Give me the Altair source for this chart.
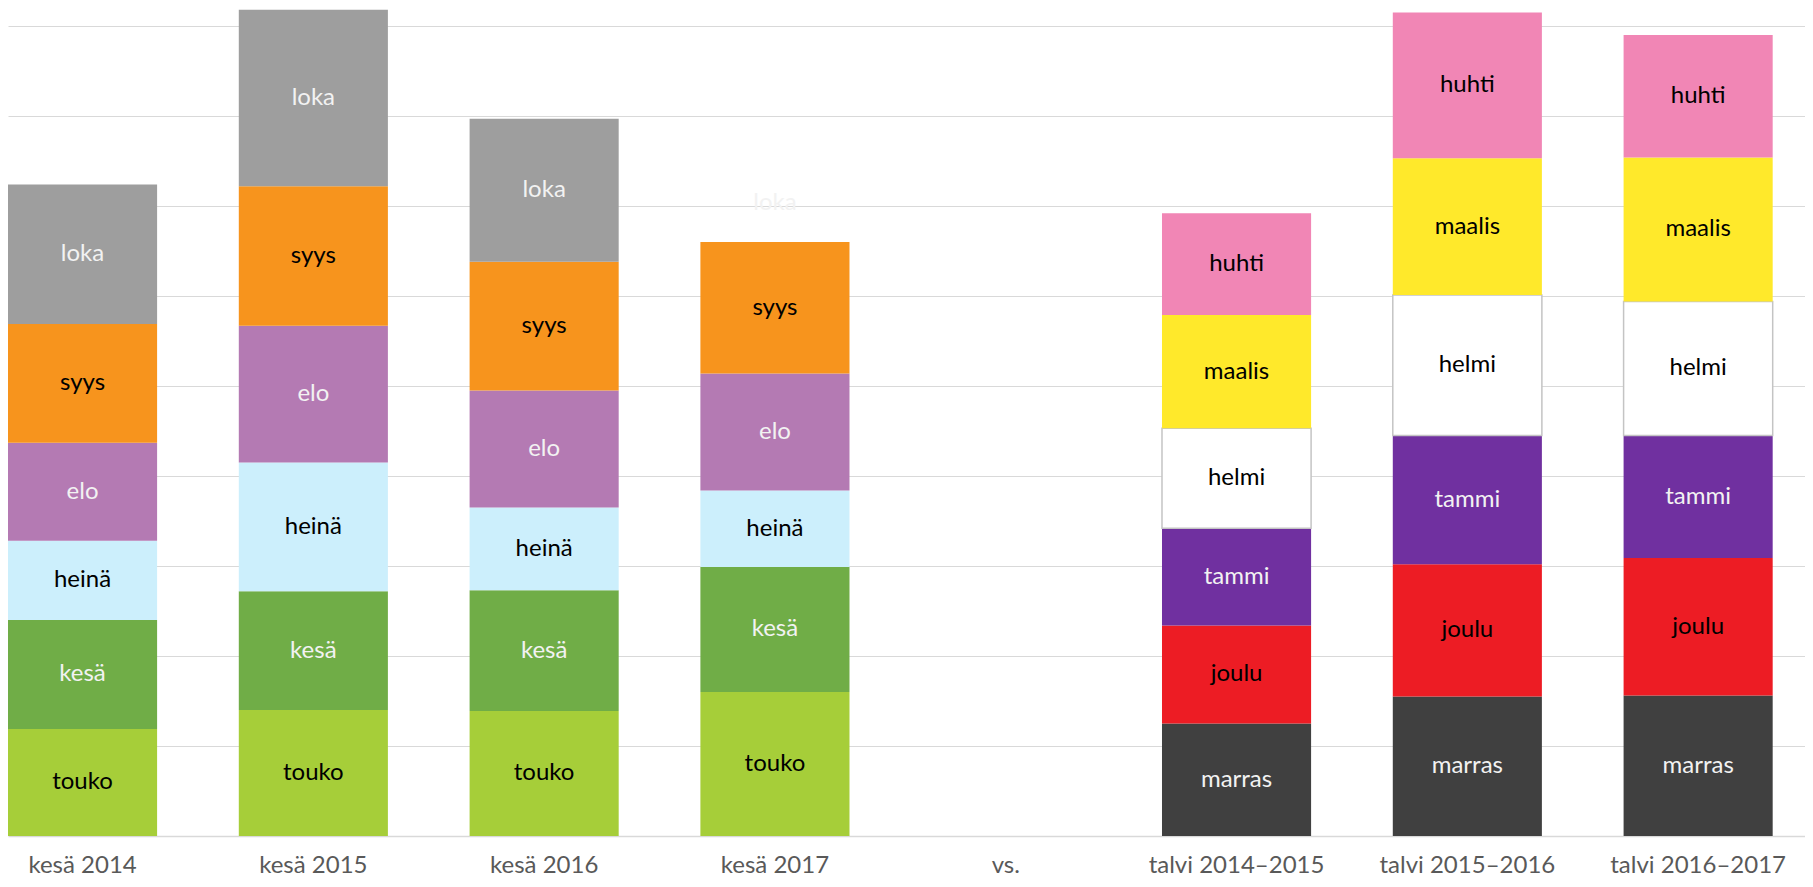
import altair as alt
import pandas as pd

# Categories on the x axis ("vs." is an empty separator category)
seasons = ["kesä 2014", "kesä 2015", "kesä 2016", "kesä 2017", "vs.",
           "talvi 2014–2015", "talvi 2015–2016", "talvi 2016–2017"]

summer_months = ["touko", "kesä", "heinä", "elo", "syys", "loka"]
winter_months = ["marras", "joulu", "tammi", "helmi", "maalis", "huhti"]

# Segment values, bottom to top
kesa_2014 = [119, 121, 88, 109, 132, 155]
kesa_2015 = [140, 132, 143, 152, 155, 196]
kesa_2016 = [139, 134, 92, 130, 143, 159]
kesa_2017 = [160, 139, 85, 130, 146, 86]
talvi_2014_2015 = [125, 109, 108, 111, 126, 113]
talvi_2015_2016 = [155, 147, 143, 156, 152, 162]
talvi_2016_2017 = [156, 153, 136, 149, 160, 136]

grid_values = [100, 200, 300, 400, 500, 600, 700, 800, 900]

month_order = summer_months + winter_months
fill_colors = ["#A6CE39", "#70AD47", "#CCEFFC", "#B47AB3", "#F7941D", "#9E9E9E",
               "#404040", "#ED1C24", "#7030A0", "#FFFFFF", "#FFE92B", "#F186B5"]
label_colors = ["#000000", "#F2F2F2", "#000000", "#F2F2F2", "#000000", "#F2F2F2",
                "#F2F2F2", "#000000", "#F2F2F2", "#000000", "#000000", "#000000"]

series = [
    (seasons[0], summer_months, kesa_2014),
    (seasons[1], summer_months, kesa_2015),
    (seasons[2], summer_months, kesa_2016),
    (seasons[3], summer_months, kesa_2017),
    (seasons[5], winter_months, talvi_2014_2015),
    (seasons[6], winter_months, talvi_2015_2016),
    (seasons[7], winter_months, talvi_2016_2017),
]
rows = []
for season, months, values in series:
    for i, (m, v) in enumerate(zip(months, values)):
        rows.append({"season": season, "month": m, "value": v, "order": i})
df = pd.DataFrame(rows)

FONT = "Lato"

x_scale = alt.Scale(domain=seasons, paddingInner=0.354, paddingOuter=0.07, align=0)
y_scale = alt.Scale(domain=[0, 920], nice=False, zero=True)

x_enc = alt.X(
    "season:N", scale=x_scale, sort=seasons,
    axis=alt.Axis(title=None, labelAngle=0, ticks=False, tickSize=0, labelPadding=36,
                  labelBaseline="alphabetic", labelFont=FONT, labelFontSize=24,
                  labelColor="#595959", domainColor="#D9D9D9", domainWidth=1.5,
                  grid=False, labelOverlap=False),
)

base = alt.Chart(df).transform_stack(
    stack="value", groupby=["season"], as_=["y0", "y1"],
    sort=[alt.SortField("order", order="ascending")],
).transform_calculate(ymid="(datum.y0 + datum.y1) / 2")

bars = base.mark_bar(strokeWidth=1.5).encode(
    x=x_enc,
    y=alt.Y("y0:Q", scale=y_scale,
            axis=alt.Axis(title=None, values=grid_values, labels=False, ticks=False,
                          domain=False, grid=True, gridColor="#D9D9D9", gridWidth=1)),
    y2="y1:Q",
    color=alt.Color("month:N", scale=alt.Scale(domain=month_order, range=fill_colors),
                    legend=None),
    opacity=alt.condition("datum.season === 'kesä 2017' && datum.month === 'loka'",
                          alt.value(0), alt.value(1)),
    stroke=alt.condition("datum.month === 'helmi'", alt.value("#C4C4C4"),
                         alt.value("transparent")),
)

labels = base.mark_text(font=FONT, fontSize=24, align="center", baseline="middle").encode(
    x=x_enc,
    y=alt.Y("ymid:Q", scale=y_scale),
    text="month:N",
    color=alt.Color("month:N", scale=alt.Scale(domain=month_order, range=label_colors),
                    legend=None),
)

chart = alt.layer(bars, labels).resolve_scale(color="independent").properties(
    width=1797, height=828,
    autosize=alt.AutoSizeParams(type="none"),
    padding={"left": 0, "top": 0, "right": 0, "bottom": 43},
).configure_view(strokeWidth=0)

chart.save("out.html", embed_options={"renderer": "svg", "actions": False})
